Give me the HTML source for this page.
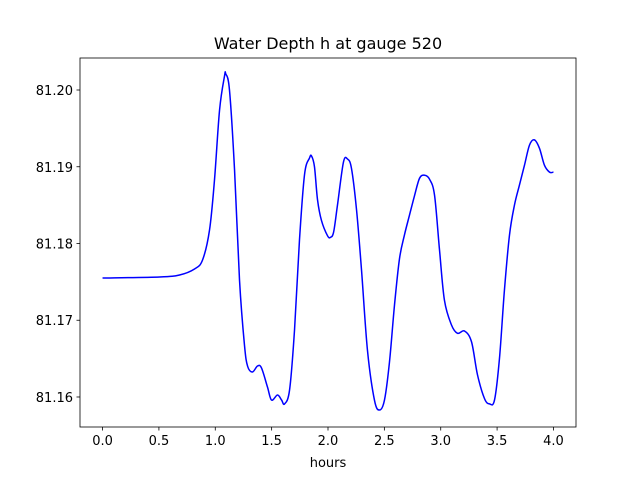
<!DOCTYPE html>
<html><head><meta charset="utf-8"><style>
body{margin:0;background:#fff;font-family:"DejaVu Sans","Liberation Sans",sans-serif}
</style></head><body>
<svg id="chart" width="640" height="480" xmlns="http://www.w3.org/2000/svg" font-family="DejaVu Sans, Liberation Sans, sans-serif"></svg>
<script>
const hours=[0,0.506,0.683,0.816,0.887,0.949,0.993,1.038,1.082,1.093,1.126,1.171,1.215,1.259,1.287,1.330,1.375,1.410,1.463,1.499,1.552,1.588,1.614,1.659,1.703,1.747,1.792,1.836,1.854,1.880,1.907,1.942,1.996,2.022,2.050,2.084,2.137,2.173,2.208,2.253,2.297,2.350,2.412,2.457,2.501,2.545,2.590,2.634,2.678,2.723,2.767,2.812,2.856,2.900,2.945,2.989,3.033,3.095,3.149,3.211,3.273,3.326,3.388,3.432,3.477,3.521,3.565,3.610,3.654,3.698,3.743,3.787,3.831,3.876,3.920,3.965,4.0];
const depth=[81.1755,81.17564,81.1759,81.17668,81.17785,81.18176,81.18827,81.19739,81.20182,81.2021,81.2,81.18958,81.17524,81.16677,81.1640,81.16326,81.16404,81.16378,81.1613,81.1596,81.16026,81.15961,81.15909,81.16091,81.16873,81.18046,81.189,81.19114,81.1914,81.19,81.1857,81.183,81.1810,81.1808,81.1815,81.1850,81.1906,81.1910,81.1898,81.1844,81.1766,81.1661,81.1596,81.1583,81.1596,81.1645,81.1720,81.1780,81.1811,81.1837,81.1862,81.1885,81.1889,81.1884,81.1863,81.1792,81.1726,81.1694,81.1683,81.1686,81.1672,81.1629,81.1598,81.1591,81.1596,81.1650,81.1739,81.1811,81.1850,81.1876,81.1902,81.1928,81.1935,81.1924,81.1902,81.1893,81.1893];
const xTicks=[0,0.5,1,1.5,2,2.5,3,3.5,4];
const xTickLabels=["0.0","0.5","1.0","1.5","2.0","2.5","3.0","3.5","4.0"];
const yTicks=[81.16,81.17,81.18,81.19,81.20];
const yTickLabels=["81.16","81.17","81.18","81.19","81.20"];
const L=80,R=576,T=58,B=427;
const xmin=-0.2,xmax=4.2,ymin=81.15609,ymax=81.20417;
const X=v=>L+(v-xmin)/(xmax-xmin)*(R-L);
const Y=v=>B-(v-ymin)/(ymax-ymin)*(B-T);
const svg=document.getElementById('chart');
const NS="http://www.w3.org/2000/svg";
function mk(tag,attrs,parent){const e=document.createElementNS(NS,tag);for(const k in attrs)e.setAttribute(k,attrs[k]);(parent||svg).appendChild(e);return e;}
const n=Math.min(hours.length,depth.length);
const pts=[];for(let i=0;i<n;i++)pts.push([X(hours[i]),Y(depth[i])]);
let d="M"+pts[0][0]+","+pts[0][1];
for(let i=0;i<pts.length-1;i++){const p0=pts[Math.max(0,i-1)],p1=pts[i],p2=pts[i+1],p3=pts[Math.min(pts.length-1,i+2)];
d+=" C"+(p1[0]+(p2[0]-p0[0])/6)+","+(p1[1]+(p2[1]-p0[1])/6)+" "+(p2[0]-(p3[0]-p1[0])/6)+","+(p2[1]-(p3[1]-p1[1])/6)+" "+p2[0]+","+p2[1];}
const line=mk('path',{d:d,fill:'none',stroke:'#0000ff','stroke-width':1.5});


const frame=mk('rect',{x:L,y:T,width:R-L,height:B-T,fill:'none',stroke:'#000','stroke-width':0.8});


xTicks.forEach((v,i)=>{const x=X(v);
const t=mk('line',{x1:x,x2:x,y1:B,y2:B+3.5,stroke:'#000','stroke-width':0.8});


const tx=mk('text',{x:x,y:B+18,'text-anchor':'middle','font-size':13});tx.textContent=xTickLabels[i];

});
yTicks.forEach((v,i)=>{const y=Y(v);
const t=mk('line',{x1:L-3.5,x2:L,y1:y,y2:y,stroke:'#000','stroke-width':0.8});


const tx=mk('text',{x:L-7,y:y+5,'text-anchor':'end','font-size':13});tx.textContent=yTickLabels[i];

});
const xl=mk('text',{x:(L+R)/2,y:467,'text-anchor':'middle','font-size':13});xl.textContent="hours";


const ti=mk('text',{x:(L+R)/2,y:49,'text-anchor':'middle','font-size':16});ti.textContent="Water Depth h at gauge 520";


</script>
</body></html>
